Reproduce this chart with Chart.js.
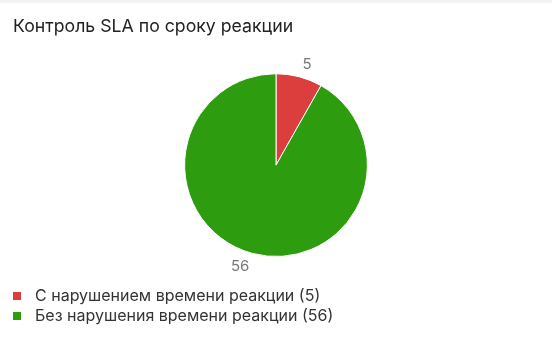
<!DOCTYPE html>
<html>
<head>
   <meta charset="utf-8">
   <script src="https://cdn.jsdelivr.net/npm/chart.js@4.4.0/dist/chart.umd.min.js"></script>
   <title>SLA</title>
   <style>
      body { margin: 0; background: #fff; font-family: Inter, Roboto, sans-serif; }
      #wrap { position: relative; width: 552px; height: 340px; }
      #topbar { position: absolute; left: 0; top: 0; width: 552px; height: 3px; background: #f3f3f3; }
      #legend { position: absolute; left: 13px; top: 286px; font-size: 16px; color: #333; }
      #legend div { height: 19.5px; line-height: 19.5px; white-space: nowrap; }
      #legend span.box { display: inline-block; width: 8px; height: 8px; margin-right: 14px; vertical-align: 1px; }
   </style>
</head>
<body>
<div id="wrap">
   <canvas id="pie" width="552" height="340"></canvas>
   <div id="topbar"></div>
   <div id="legend"></div>
</div>
<script>
   const title = 'Контроль SLA по сроку реакции';
   const categories = ['С нарушением времени реакции', 'Без нарушения времени реакции'];
   const values = [5, 56];
   const colors = ['#dc3e3e', '#2d9c0e'];

   // legend rows, one per category
   const legend = document.getElementById('legend');
   for (let i = 0; i < categories.length; i++) {
      const row = document.createElement('div');
      row.innerHTML = '<span class="box" style="background:' + colors[i] + '"></span>' +
         categories[i] + ' (' + values[i] + ')';
      legend.appendChild(row);
   }

   // value labels just outside each slice
   const outsideLabels = {
      id: 'outsideLabels',
      afterDatasetsDraw(chart) {
         const ctx = chart.ctx;
         const meta = chart.getDatasetMeta(0);
         ctx.save();
         ctx.font = '15px Inter, Roboto, sans-serif';
         ctx.fillStyle = '#777';
         ctx.textBaseline = 'middle';
         meta.data.forEach((arc, i) => {
            const p = arc.getProps(['x', 'y', 'startAngle', 'endAngle', 'outerRadius'], true);
            const mid = (p.startAngle + p.endAngle) / 2;
            const r = p.outerRadius + 13;
            const x = p.x + Math.cos(mid) * r;
            const y = p.y + Math.sin(mid) * r;
            ctx.textAlign = Math.cos(mid) >= 0 ? 'left' : 'right';
            ctx.fillText(String(chart.data.datasets[0].data[i]), x, y);
         });
         ctx.restore();
      }
   };

   new Chart(document.getElementById('pie'), {
      type: 'pie',
      data: {
         labels: categories,
         datasets: [{
            data: values,
            backgroundColor: colors,
            borderColor: '#fff',
            borderWidth: 1,
            hoverOffset: 0
         }]
      },
      options: {
         responsive: false,
         animation: false,
         layout: { padding: { top: 0, left: 13, right: 13, bottom: 83 } },
         plugins: {
            legend: { display: false },
            tooltip: { enabled: false },
            title: {
               display: true,
               text: title,
               align: 'start',
               color: '#222',
               font: { family: 'Inter, Roboto, sans-serif', size: 17.7, weight: 'normal' },
               padding: { top: 16.5, bottom: 35.5 }
            }
         }
      },
      plugins: [outsideLabels]
   });
</script>
</body>
</html>
